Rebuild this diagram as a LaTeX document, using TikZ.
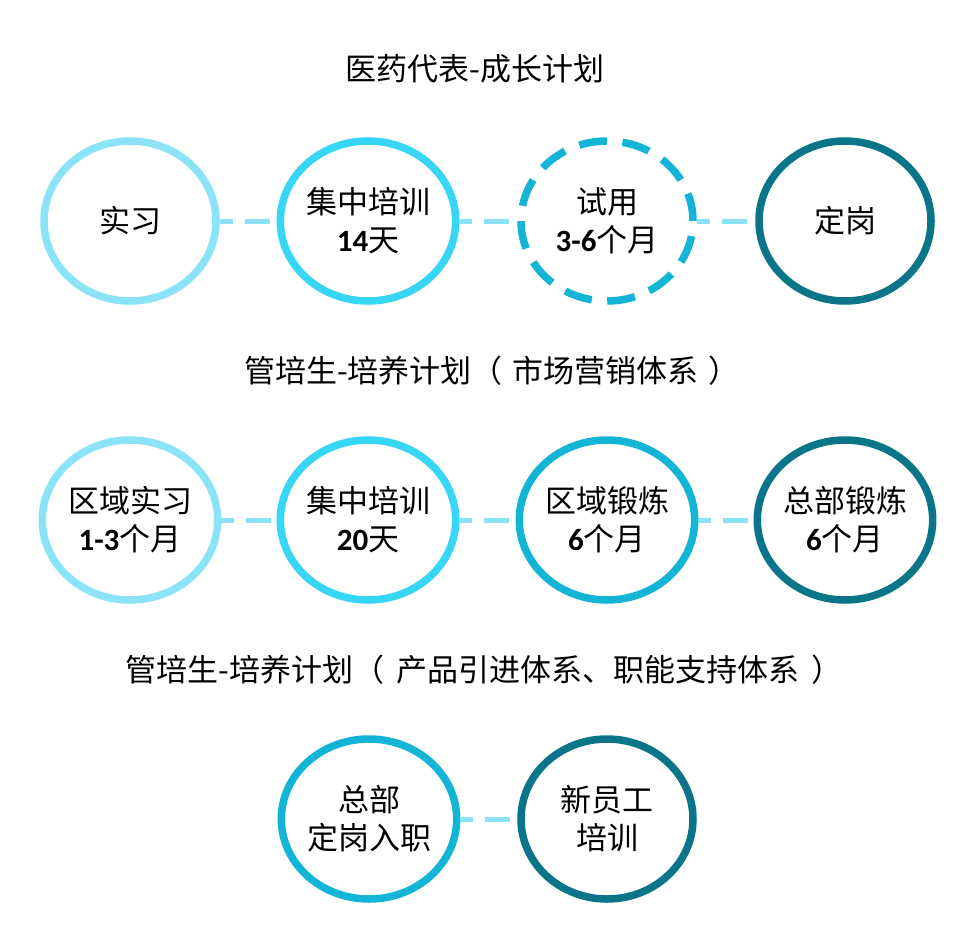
\documentclass[tikz,border=0pt]{standalone}
\usepackage{fontspec}
\setmainfont{Noto Sans CJK SC}
\newfontfamily\numfont{Carlito}
\newcommand\nb[1]{{\numfont\bfseries #1}}
\definecolor{cA}{HTML}{8BE3F7}
\definecolor{cB}{HTML}{38D6F5}
\definecolor{cC}{HTML}{12B5D6}
\definecolor{cD}{HTML}{0A7488}
\tikzset{
  stage/.style={ellipse, draw, line width=7.5pt, minimum width=172pt, minimum height=160pt,
    inner sep=0pt, align=center, font=\fontsize{31}{38}\selectfont, text=black},
  title/.style={font=\fontsize{31}{36}\selectfont, text=black},
  link/.style={draw=cA, line width=5pt, dash pattern=on 25pt off 12pt, dash phase=12pt}
}
\usetikzlibrary{shapes.geometric}
\begin{document}
\begin{tikzpicture}[x=1pt,y=-1pt]
\useasboundingbox (0,0) rectangle (960,944);
\node[title] (t1) at (475,69) {医药代表-成长计划};
\node[title] (t2) at (492,371) {管培生-培养计划（\hspace{10pt}市场营销体系\hspace{10pt}）};
\node[title] (t3) at (484,670) {管培生-培养计划（\hspace{12pt}产品引进体系、职能支持体系\hspace{12pt}）};

\node[stage, draw=cA] (a1) at (130,221) {实习};
\node[stage, draw=cB] (a2) at (368,221) {集中培训\\\nb{14}天};
\node[stage, draw=cC, dash pattern=on 28pt off 15.5pt] (a3) at (607,221) {试用\\\nb{3-6}个月};
\node[stage, draw=cD] (a4) at (845,221) {定岗};

\node[stage, draw=cA] (b1) at (130,520) {区域实习\\\nb{1-3}个月};
\node[stage, draw=cB] (b2) at (368,520) {集中培训\\\nb{20}天};
\node[stage, draw=cC] (b3) at (607,520) {区域锻炼\\\nb{6}个月};
\node[stage, draw=cD] (b4) at (845,520) {总部锻炼\\\nb{6}个月};

\node[stage, draw=cC] (c1) at (369,819) {总部\\定岗入职};
\node[stage, draw=cD] (c2) at (607,819) {新员工\\培训};

\draw[link] (a1.east) -- (a2.west);
\draw[link] (a2.east) -- (a3.west);
\draw[link] (a3.east) -- (a4.west);
\draw[link] (b1.east) -- (b2.west);
\draw[link] (b2.east) -- (b3.west);
\draw[link] (b3.east) -- (b4.west);
\draw[link] (c1.east) -- (c2.west);
\end{tikzpicture}
\end{document}
